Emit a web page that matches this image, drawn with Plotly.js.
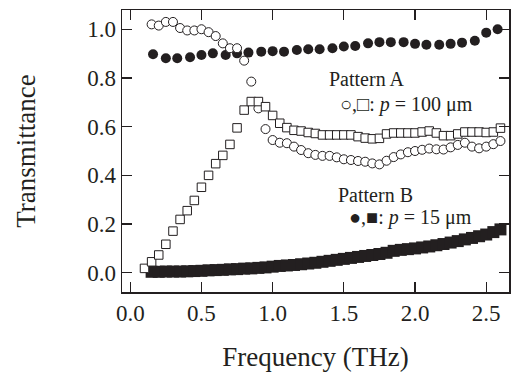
<!DOCTYPE html>
<html>
<head>
<meta charset="utf-8">
<script src="https://cdn.plot.ly/plotly-3.0.1.min.js"></script>
<style>html,body{margin:0;padding:0;background:#fff;}#chart{width:513px;height:372px;}</style>
</head>
<body>
<div id="chart"></div>
<script>
// Pattern A, open circles (p = 100 um)
const freqOpenCircles = [0.15,0.20,0.25,0.30,0.35,0.40,0.45,0.50,0.55,0.60,0.65,0.70,0.75,0.80,0.85,0.90,0.95,1.00,1.05,1.10,1.15,1.20,1.25,1.30,1.35,1.40,1.45,1.50,1.55,1.60,1.65,1.70,1.75,1.80,1.85,1.90,1.95,2.00,2.05,2.10,2.15,2.20,2.25,2.30,2.35,2.40,2.45,2.50,2.55,2.60];
const transOpenCircles = [1.020,1.015,1.030,1.030,1.005,0.995,0.995,1.000,0.988,0.972,0.942,0.922,0.922,0.871,0.785,0.675,0.590,0.545,0.534,0.532,0.518,0.504,0.491,0.484,0.480,0.480,0.474,0.466,0.463,0.459,0.456,0.449,0.445,0.460,0.475,0.486,0.495,0.500,0.505,0.510,0.507,0.506,0.515,0.525,0.534,0.518,0.511,0.518,0.528,0.541];

// Pattern A, open squares (p = 100 um)
const freqOpenSquares = [0.10,0.15,0.20,0.25,0.30,0.35,0.40,0.45,0.50,0.55,0.60,0.65,0.70,0.75,0.80,0.85,0.90,0.95,1.00,1.05,1.10,1.15,1.20,1.25,1.30,1.35,1.40,1.45,1.50,1.55,1.60,1.65,1.70,1.75,1.80,1.85,1.90,1.95,2.00,2.05,2.10,2.15,2.20,2.25,2.30,2.35,2.40,2.45,2.50,2.55,2.60];
const transOpenSquares = [0.018,0.045,0.073,0.117,0.171,0.219,0.255,0.297,0.351,0.400,0.448,0.482,0.527,0.595,0.668,0.703,0.703,0.682,0.646,0.614,0.596,0.585,0.582,0.576,0.572,0.566,0.566,0.566,0.566,0.566,0.559,0.553,0.550,0.552,0.570,0.574,0.574,0.574,0.574,0.578,0.582,0.574,0.563,0.563,0.570,0.578,0.578,0.578,0.576,0.578,0.594];

// Pattern B, filled circles (p = 15 um)
const freqFilledCircles = [0.16,0.25,0.33,0.42,0.50,0.58,0.67,0.75,0.83,0.92,1.00,1.08,1.17,1.25,1.33,1.42,1.50,1.58,1.67,1.75,1.83,1.92,2.00,2.08,2.17,2.25,2.33,2.42,2.50,2.58];
const transFilledCircles = [0.897,0.881,0.881,0.885,0.894,0.901,0.894,0.901,0.904,0.908,0.910,0.908,0.915,0.918,0.918,0.922,0.929,0.931,0.942,0.947,0.947,0.947,0.940,0.936,0.936,0.940,0.945,0.953,0.986,1.000];

// Pattern B, filled squares (p = 15 um)
const freqFilledSquares = [0.15,0.20,0.25,0.30,0.35,0.40,0.45,0.50,0.55,0.60,0.65,0.70,0.75,0.80,0.85,0.90,0.95,1.00,1.05,1.10,1.15,1.20,1.25,1.30,1.35,1.40,1.45,1.50,1.55,1.60,1.65,1.70,1.75,1.80,1.85,1.90,1.95,2.00,2.05,2.10,2.15,2.20,2.25,2.30,2.35,2.40,2.45,2.50,2.55,2.60];
const transFilledSquares = [0.004,0.004,0.005,0.005,0.005,0.006,0.007,0.008,0.010,0.011,0.012,0.014,0.015,0.017,0.018,0.020,0.022,0.025,0.028,0.030,0.032,0.035,0.038,0.041,0.045,0.049,0.053,0.057,0.061,0.065,0.069,0.073,0.077,0.082,0.090,0.094,0.097,0.100,0.104,0.108,0.113,0.118,0.124,0.130,0.137,0.143,0.150,0.157,0.167,0.178];

const xTickVals = [0.0,0.5,1.0,1.5,2.0,2.5];
const xTickText = ['0.0','0.5','1.0','1.5','2.0','2.5'];
const yTickVals = [0.0,0.2,0.4,0.6,0.8,1.0];
const yTickText = ['0.0','0.2','0.4','0.6','0.8','1.0'];

const ink = '#231f20';
const serif = 'Liberation Serif, Times New Roman, serif';

const traces = [
  {x: freqFilledCircles, y: transFilledCircles, type: 'scatter', mode: 'markers',
   marker: {symbol: 'circle', size: 10, color: ink, line: {width: 0}}},
  {x: freqFilledSquares, y: transFilledSquares, type: 'scatter', mode: 'markers',
   marker: {symbol: 'square', size: 12, color: ink, line: {width: 0}}},
  {x: freqOpenCircles, y: transOpenCircles, type: 'scatter', mode: 'markers',
   marker: {symbol: 'circle', size: 9, color: '#ffffff', line: {width: 1, color: ink}}},
  {x: freqOpenSquares, y: transOpenSquares, type: 'scatter', mode: 'markers',
   marker: {symbol: 'square', size: 8.5, color: '#ffffff', line: {width: 1, color: ink}}}
];

const axisCommon = {
  showgrid: false, zeroline: false, showline: true, mirror: 'ticks',
  linecolor: ink, linewidth: 1.5, ticks: 'inside', ticklen: 10, tickwidth: 1.2, tickcolor: ink,
  tickfont: {family: serif, size: 23, color: ink}
};

const layout = {
  width: 513, height: 372,
  margin: {l: 122, r: 4, t: 10, b: 80},
  paper_bgcolor: '#ffffff', plot_bgcolor: '#ffffff',
  showlegend: false,
  font: {family: serif, color: ink},
  xaxis: Object.assign({}, axisCommon, {
    range: [-0.058, 2.66], tickmode: 'array', tickvals: xTickVals, ticktext: xTickText,
    title: {text: 'Frequency (THz)', font: {family: serif, size: 27, color: ink}, standoff: 25}
  }),
  yaxis: Object.assign({}, axisCommon, {
    range: [-0.079, 1.079], tickmode: 'array', tickvals: yTickVals, ticktext: yTickText,
    title: {text: 'Transmittance', font: {family: serif, size: 27, color: ink}, standoff: 43}
  }),
  annotations: [
    {x: 1.665, y: 0.795, xref: 'x', yref: 'y', text: 'Pattern A', showarrow: false,
     font: {family: serif, size: 20, color: ink}},
    {x: 1.94, y: 0.69, xref: 'x', yref: 'y', text: '○,□: <i>p</i> = 100 μm', showarrow: false,
     font: {family: serif, size: 20, color: ink}},
    {x: 1.725, y: 0.32, xref: 'x', yref: 'y', text: 'Pattern B', showarrow: false,
     font: {family: serif, size: 20, color: ink}},
    {x: 1.97, y: 0.225, xref: 'x', yref: 'y', text: '●,■: <i>p</i> = 15 μm', showarrow: false,
     font: {family: serif, size: 20, color: ink}}
  ]
};

Plotly.newPlot('chart', traces, layout, {staticPlot: true, displayModeBar: false});
</script>
</body>
</html>
